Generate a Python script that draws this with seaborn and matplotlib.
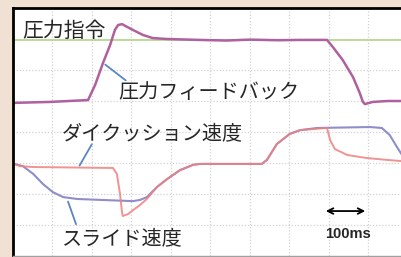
import matplotlib
matplotlib.use("Agg")
import matplotlib.pyplot as plt
import pandas as pd
import seaborn as sns

# time axis in scope divisions, amplitude in divisions (8 div full scale)
cmd_t = [0.0, 9.85]
cmd_v = [6.97, 6.97]

fb_t = [0.03, 0.94, 1.90, 2.08, 2.28, 2.46, 2.58, 2.66, 2.76, 2.89, 3.04, 3.29,
        3.54, 3.90, 4.73, 5.40, 6.00, 6.70, 7.27, 7.95, 8.10, 8.35, 8.61, 8.78,
        8.86, 8.91, 9.11, 9.50, 9.85]
fb_v = [4.94, 4.97, 5.03, 5.52, 6.23, 6.81, 7.29, 7.45, 7.48, 7.39, 7.29, 7.13,
        7.03, 7.00, 6.97, 6.95, 6.98, 6.96, 6.97, 6.97, 6.74, 6.32, 5.77, 5.26,
        4.97, 4.90, 4.97, 5.00, 5.00]

cush_t = [0.03, 0.18, 0.51, 2.53, 2.63, 2.71, 2.76, 2.78, 2.91, 3.04, 3.22, 3.39,
          3.65, 3.90, 4.23, 4.56, 4.73, 6.30, 6.43, 6.68, 7.01, 7.27, 7.95, 8.03,
          8.15, 8.46, 8.96, 9.47, 9.85]
cush_v = [2.97, 2.90, 2.87, 2.84, 2.65, 2.00, 1.42, 1.29, 1.35, 1.48, 1.65, 1.84,
          2.23, 2.48, 2.77, 2.94, 2.97, 2.97, 3.10, 3.61, 3.94, 4.06, 4.13, 3.74,
          3.45, 3.26, 3.16, 3.10, 3.06]

slide_t = [0.03, 0.25, 0.51, 0.76, 1.01, 1.27, 1.62, 2.20, 3.04, 3.22, 3.39, 3.65,
           3.90, 4.23, 4.56, 4.73, 6.30, 6.43, 6.68, 7.01, 7.27, 7.70, 9.04, 9.34,
           9.54, 9.72, 9.85]
slide_v = [2.97, 2.90, 2.65, 2.32, 2.06, 1.90, 1.84, 1.81, 1.77, 1.81, 1.90, 2.23,
           2.48, 2.77, 2.94, 2.97, 2.97, 3.10, 3.61, 3.94, 4.06, 4.13, 4.16, 4.13,
           3.90, 3.52, 3.26]

sns.set_style("white")
plt.rcParams["font.family"] = ["Noto Sans CJK JP", "DejaVu Sans"]

fig = plt.figure(figsize=(4.02, 2.57), dpi=100, facecolor="#f0e1d4")
ax = fig.add_axes([13 / 402, 1 / 257, 389 / 402, 248 / 257])
ax.set_facecolor("white")

sns.lineplot(x=cmd_t, y=cmd_v, ax=ax, color="#b4d68a", linewidth=1.2)
sns.lineplot(x=slide_t, y=slide_v, ax=ax, color="#8e8ecb", linewidth=1.5, sort=False)
sns.lineplot(x=cush_t, y=cush_v, ax=ax, color="#ee8080", linewidth=1.4, sort=False,
             alpha=0.85)
sns.lineplot(x=fb_t, y=fb_v, ax=ax, color="#b0609e", linewidth=1.8, sort=False)

ax.set_xlim(0, 9.85)
ax.set_ylim(0, 8)
ax.set_xticks(range(1, 10))
ax.set_yticks(range(1, 8))
ax.grid(True, linestyle=(0, (1, 1.5)), color="#d2d2d2", linewidth=0.9)
ax.tick_params(length=0, labelbottom=False, labelleft=False)
ax.set_xlabel("")
ax.set_ylabel("")
for side in ["left", "top"]:
    ax.spines[side].set_color("black")
    ax.spines[side].set_linewidth(2)
ax.spines["right"].set_visible(False)
ax.spines["bottom"].set_color("#a0a0a0")
ax.spines["bottom"].set_linewidth(1)

leader = dict(arrowstyle="-", color="#5a86c4", lw=1.3)
ax.text(0.23, 7.26, "圧力指令", fontsize=15, ha="left", va="center")
ax.annotate("", xy=(2.28, 6.23), xytext=(2.91, 5.61), arrowprops=leader)
ax.text(2.66, 5.26, "圧力フィードバック", fontsize=14.5, ha="left", va="center")
ax.annotate("", xy=(1.65, 2.84), xytext=(2.03, 3.68), arrowprops=leader)
ax.text(1.24, 3.94, "ダイクッション速度", fontsize=14.5, ha="left", va="center")
ax.annotate("", xy=(1.37, 1.84), xytext=(1.62, 0.94), arrowprops=leader)
ax.text(1.24, 0.55, "スライド速度", fontsize=14.5, ha="left", va="center")

ax.annotate("", xy=(7.85, 1.45), xytext=(8.99, 1.45),
            arrowprops=dict(arrowstyle="<->", color="black", lw=1.3))
ax.text(8.48, 0.71, "100ms", fontsize=10.5, fontweight="bold",
        family=["Liberation Sans", "DejaVu Sans"], ha="center", va="center")

plt.savefig("out.png", dpi=100, facecolor=fig.get_facecolor())
